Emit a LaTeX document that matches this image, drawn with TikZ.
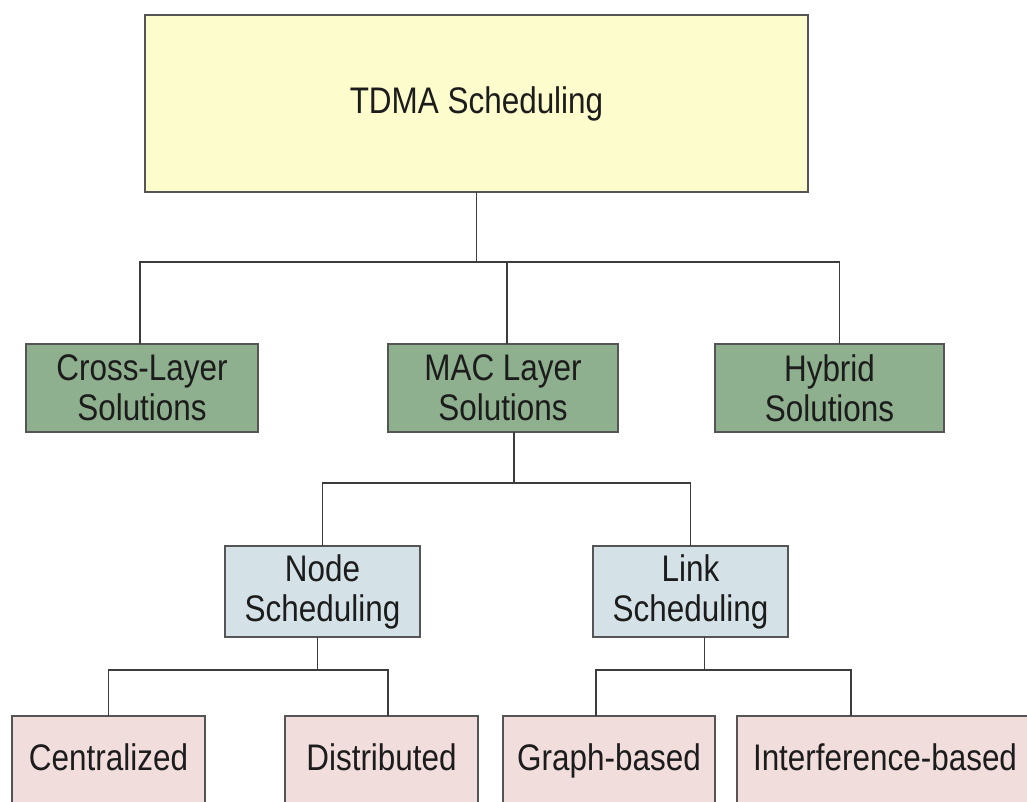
\documentclass[tikz,border=0pt]{standalone}
\usepackage{fontspec}
\setmainfont{Liberation Sans}[FakeStretch=0.85]
\definecolor{topfill}{RGB}{253,252,204}
\definecolor{greenfill}{RGB}{143,176,143}
\definecolor{bluefill}{RGB}{212,226,231}
\definecolor{pinkfill}{RGB}{241,221,220}
\definecolor{edge}{RGB}{85,85,85}
\definecolor{wire}{RGB}{60,60,60}
\definecolor{ink}{RGB}{28,28,28}
\tikzset{
  box/.style={draw=edge, line width=1.6pt, inner sep=0pt, outer sep=0pt,
    align=center, text=ink, font=\fontsize{37}{40}\selectfont},
  topbox/.style={box, fill=topfill, minimum width=663pt, minimum height=177pt},
  greenbox/.style={box, fill=greenfill, minimum height=88pt},
  bluebox/.style={box, fill=bluefill, minimum height=91pt},
  pinkbox/.style={box, fill=pinkfill, minimum height=88pt, text height=27pt, text depth=7pt},
  wirestyle/.style={draw=wire, line width=1.7pt}
}
\begin{document}
\begin{tikzpicture}[x=1pt,y=-1pt]
\useasboundingbox (0,0) rectangle (1027,802);
\fill[white] (0,0) rectangle (1027,802);
\clip (0,0) rectangle (1027,802);

\node[topbox] (top) at (476.5,103.5) {TDMA Scheduling};

\node[greenbox, minimum width=232pt] (cross) at (142,388) {Cross-Layer\\Solutions};
\node[greenbox, minimum width=230pt] (mac) at (503,388) {MAC Layer\\Solutions};
\node[greenbox, minimum width=229pt] (hybrid) at (829.5,388) {Hybrid\\Solutions};

\node[bluebox, minimum width=195pt] (nodes) at (322.5,591.5) {Node\\Scheduling};
\node[bluebox, minimum width=195pt] (links) at (690.5,591.5) {Link\\Scheduling};

\node[pinkbox, minimum width=193pt] (cent) at (108.5,760) {Centralized};
\node[pinkbox, minimum width=193pt] (dist) at (381.5,760) {Distributed};
\node[pinkbox, minimum width=212pt] (graph) at (609,760) {Graph-based};
\node[pinkbox, minimum width=296pt] (interf) at (885,760) {Interference-based};

\coordinate (bus1) at (0,262);
\coordinate (bus2) at (0,483);
\coordinate (bus3) at (0,670);

% level 1 -> level 2
\draw[wirestyle] (top.south) -- (top.south |- bus1);
\draw[wirestyle] ([xshift=-2pt]cross.north) |- ([xshift=10pt]hybrid.north |- bus1) -- ([xshift=10pt]hybrid.north);
\draw[wirestyle] ([xshift=4pt]mac.north) -- ([xshift=4pt]mac.north |- bus1);

% MAC -> node / link
\draw[wirestyle] ([xshift=11pt]mac.south) -- ([xshift=11pt]mac.south |- bus2);
\draw[wirestyle] (nodes.north) |- (links.north |- bus2) -- (links.north);

% node -> centralized / distributed
\draw[wirestyle] ([xshift=-5pt]nodes.south) -- ([xshift=-5pt]nodes.south |- bus3);
\draw[wirestyle] (cent.north) |- ([xshift=6.5pt]dist.north |- bus3) -- ([xshift=6.5pt]dist.north);

% link -> graph / interference
\draw[wirestyle] ([xshift=14pt]links.south) -- ([xshift=14pt]links.south |- bus3);
\draw[wirestyle] ([xshift=-13pt]graph.north) |- ([xshift=-34pt]interf.north |- bus3) -- ([xshift=-34pt]interf.north);
\end{tikzpicture}
\end{document}
